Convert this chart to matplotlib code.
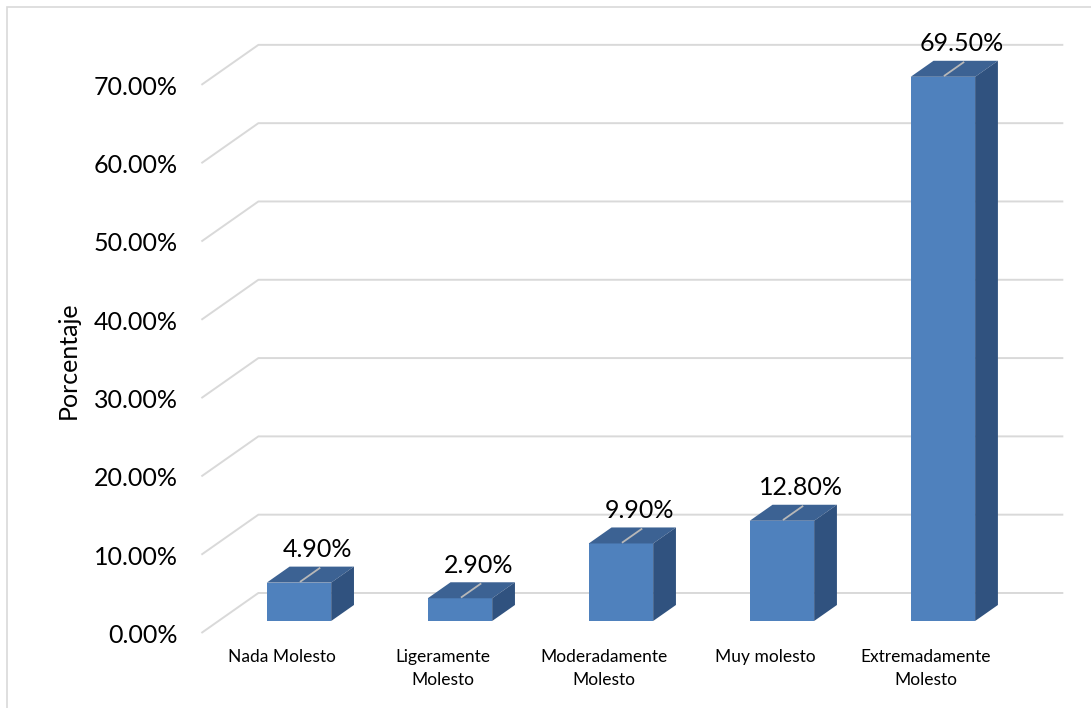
import matplotlib
matplotlib.use("Agg")
import matplotlib.pyplot as plt
from matplotlib.patches import Polygon, Rectangle

categories = ["Nada Molesto", "Ligeramente\nMolesto", "Moderadamente\nMolesto",
              "Muy molesto", "Extremadamente\nMolesto"]
values = [4.9, 2.9, 9.9, 12.8, 69.5]
value_labels = ["4.90%", "2.90%", "9.90%", "12.80%", "69.50%"]
ticks = [0, 10, 20, 30, 40, 50, 60, 70]
tick_labels = ["0.00%", "10.00%", "20.00%", "30.00%", "40.00%", "50.00%", "60.00%", "70.00%"]
y_title = "Porcentaje"

plt.rcParams["font.family"] = ["Lato", "DejaVu Sans"]

# fake 3D: a point at depth d (0 = front of floor, 1 = back wall) is shifted by d*(DX, DY)
DX, DY = 0.354, 5.11
BAR_W = 0.4
D_FRONT, D_BACK = 0.3, 0.7
X_LEFT, X_RIGHT = -0.5, 4.5

grid_col = "#D9D9D9"
front_col = "#4F81BD"
top_col = "#3C6293"
side_col = "#30527F"


def proj(x, v, d):
    return x + d * DX, v + d * DY


fig = plt.figure(figsize=(10.91, 7.08), dpi=100)
ax = fig.add_axes([0, 0, 1, 1])
ax.set_xlim(-1.751, 5.026)
ax.set_ylim(-9.58, 80.84)
ax.axis("off")

# chart border (only left and top edges visible)
fig.patches.append(Rectangle((7 / 1091, -0.1), 1.2, 1.1 - 7 / 708,
                             transform=fig.transFigure, fill=False,
                             edgecolor=grid_col, linewidth=1.2))

# walls gridlines
for t in ticks:
    x0, y0 = proj(X_LEFT, t, 0)
    x1, y1 = proj(X_LEFT, t, 1)
    x2, y2 = proj(X_RIGHT, t, 1)
    ax.plot([x0, x1, x2], [y0, y1, y2], color=grid_col, linewidth=1.4,
            solid_capstyle="butt", zorder=1)

for t, lab in zip(ticks, tick_labels):
    ax.text(X_LEFT - 0.145, t - 0.3, lab, ha="right", va="center", fontsize=18,
            color="#000000")

ax.text(-1.329, 34.87, y_title, rotation=90, ha="center", va="center", fontsize=18)

# bars
for i, (v, lab) in enumerate(zip(values, value_labels)):
    xl = i - BAR_W / 2
    xr = i + BAR_W / 2
    fx, fy = proj(0, 0, D_FRONT)
    ax.bar(i + fx, v, width=BAR_W, bottom=fy, color=front_col, zorder=3)
    top = [proj(xl, v, D_FRONT), proj(xl, v, D_BACK), proj(xr, v, D_BACK), proj(xr, v, D_FRONT)]
    ax.add_patch(Polygon(top, closed=True, facecolor=top_col, edgecolor="none", zorder=3))
    side = [proj(xr, 0, D_FRONT), proj(xr, v, D_FRONT), proj(xr, v, D_BACK), proj(xr, 0, D_BACK)]
    ax.add_patch(Polygon(side, closed=True, facecolor=side_col, edgecolor="none", zorder=3))
    # leader line on top face
    a = proj(i, v, 0.33)
    b = proj(i, v, 0.66)
    ax.plot([a[0], b[0]], [a[1], b[1]], color="#B8B8B8", linewidth=1.3, zorder=4)
    lx, ly = proj(i, v, D_BACK)
    ax.text(lx - 0.025, ly + 2.2, lab, ha="center", va="center", fontsize=18, zorder=5)

for i, cat in enumerate(categories):
    ax.text(i, -2.0, cat, ha="center", va="top", fontsize=12.5, linespacing=1.55)

fig.savefig("out.png", dpi=100)
